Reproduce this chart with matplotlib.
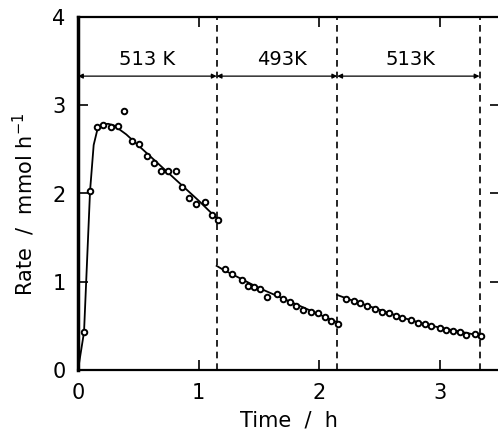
import numpy as np
import matplotlib.pyplot as plt

# measured points, three temperature periods
x1 = [0.05, 0.10, 0.16, 0.21, 0.27, 0.33, 0.38, 0.45, 0.51, 0.57, 0.63, 0.69,
      0.75, 0.81, 0.86, 0.92, 0.98, 1.05, 1.11, 1.16]
y1 = [0.43, 2.03, 2.75, 2.78, 2.75, 2.76, 2.93, 2.59, 2.56, 2.42, 2.35, 2.26,
      2.25, 2.25, 2.07, 1.95, 1.88, 1.90, 1.76, 1.70]

x2 = [1.22, 1.28, 1.36, 1.41, 1.46, 1.51, 1.57, 1.65, 1.70, 1.76, 1.81, 1.87,
      1.93, 1.99, 2.05, 2.10, 2.16]
y2 = [1.15, 1.09, 1.02, 0.95, 0.94, 0.92, 0.83, 0.86, 0.80, 0.77, 0.72, 0.68,
      0.66, 0.65, 0.60, 0.55, 0.52]

x3 = [2.22, 2.29, 2.34, 2.40, 2.46, 2.52, 2.58, 2.64, 2.69, 2.76, 2.82, 2.88,
      2.93, 3.00, 3.05, 3.11, 3.17, 3.22, 3.29, 3.34]
y3 = [0.80, 0.78, 0.76, 0.73, 0.69, 0.66, 0.65, 0.61, 0.59, 0.57, 0.53, 0.52,
      0.50, 0.48, 0.45, 0.44, 0.43, 0.40, 0.41, 0.38]

# fitted curves
fx1 = [0.0, 0.05, 0.10, 0.13, 0.16, 0.20, 0.25, 0.30, 0.40, 0.60, 0.80, 1.00, 1.15]
fy1 = [0.0, 0.43, 2.03, 2.55, 2.72, 2.78, 2.79, 2.77, 2.67, 2.42, 2.17, 1.92, 1.72]
fx2 = [1.15, 1.20, 1.30, 1.40, 1.50, 1.60, 1.70, 1.80, 1.90, 2.00, 2.10, 2.15]
fy2 = [1.18, 1.14, 1.07, 1.00, 0.93, 0.87, 0.81, 0.75, 0.69, 0.63, 0.57, 0.54]
fx3 = [2.15, 2.25, 2.40, 2.55, 2.70, 2.85, 3.00, 3.15, 3.33]
fy3 = [0.85, 0.80, 0.73, 0.66, 0.59, 0.53, 0.48, 0.44, 0.39]

switch_times = [1.15, 2.15, 3.33]
period_edges = [0.0, 1.15, 2.15, 3.33]
period_labels = ["513 K", "493K", "513K"]
label_x = [0.57, 1.69, 2.76]

fig = plt.figure(figsize=(4.98, 4.40), dpi=100)
ax = fig.add_axes([78 / 498, 70 / 440, 422 / 498, 353 / 440])

for fx, fy in [(fx1, fy1), (fx2, fy2), (fx3, fy3)]:
    ax.plot(fx, fy, color="black", lw=1.3)
for x, y in [(x1, y1), (x2, y2), (x3, y3)]:
    ax.plot(x, y, "o", mfc="white", mec="black", ms=4, mew=1.4, zorder=3)

for t in switch_times:
    ax.axvline(t, color="black", ls=(0, (4, 3)), lw=1.2)

for a, b in zip(period_edges[:-1], period_edges[1:]):
    ax.annotate("", xy=(a, 3.33), xytext=(b, 3.33),
                arrowprops=dict(arrowstyle="<|-|>", color="black", lw=0.9,
                                mutation_scale=7, shrinkA=0, shrinkB=0))
for lx, lab in zip(label_x, period_labels):
    ax.text(lx, 3.52, lab, ha="center", va="center", fontsize=14)

ax.set_xlim(0, 3.5)
ax.set_ylim(0, 4)
ax.set_xticks([0, 1, 2, 3])
ax.set_yticks([0, 1, 2, 3, 4])
ax.tick_params(direction="in", length=7, width=1.2, labelsize=15,
               top=True, right=True)
ax.tick_params(axis="x", pad=9)
ax.tick_params(axis="y", pad=9)
for s in ax.spines.values():
    s.set_linewidth(1.6)
ax.spines["left"].set_linewidth(2.5)

ax.set_xlabel("Time  /  h", fontsize=15)
ax.xaxis.set_label_coords(0.50, -0.115)
ax.set_ylabel("Rate  /  mmol h$^{-1}$", fontsize=15)
ax.yaxis.set_label_coords(-0.096, 0.47)

fig.savefig("out.png", dpi=100)
